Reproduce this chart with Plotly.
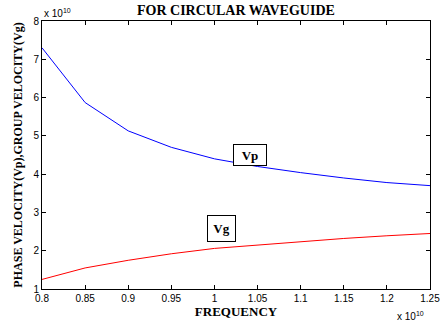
import plotly.graph_objects as go

freq = [0.8, 0.85, 0.9, 0.95, 1.0, 1.05, 1.1, 1.15, 1.2, 1.25]
vp = [7.3, 5.87, 5.13, 4.7, 4.4, 4.2, 4.04, 3.9, 3.78, 3.7]
vg = [1.25, 1.55, 1.75, 1.92, 2.06, 2.15, 2.24, 2.32, 2.39, 2.45]
xticks = [0.8, 0.85, 0.9, 0.95, 1.0, 1.05, 1.1, 1.15, 1.2, 1.25]
xticktext = ["0.8", "0.85", "0.9", "0.95", "1", "1.05", "1.1", "1.15", "1.2", "1.25"]
yticks = [1, 2, 3, 4, 5, 6, 7, 8]

serif = "Liberation Serif, Times New Roman, serif"
sans = "Liberation Sans, Arial, sans-serif"

fig = go.Figure()
fig.add_trace(go.Scatter(x=freq, y=vp, mode="lines", line=dict(color="#0000ff", width=1), showlegend=False))
fig.add_trace(go.Scatter(x=freq, y=vg, mode="lines", line=dict(color="#ff0000", width=1), showlegend=False))

fig.add_annotation(x=1.041, y=4.5, text="<b>Vp</b>", showarrow=False,
                   font=dict(family=serif, size=13, color="black"),
                   width=32, height=20,
                   bordercolor="black", borderwidth=1, borderpad=0, bgcolor="white")
fig.add_annotation(x=1.008, y=2.58, text="<b>Vg</b>", showarrow=False,
                   font=dict(family=serif, size=13, color="black"),
                   width=27, height=25,
                   bordercolor="black", borderwidth=1, borderpad=0, bgcolor="white")

fig.add_annotation(xref="paper", yref="paper", x=0, y=1, xanchor="left", yanchor="bottom",
                   text="x 10<sup>10</sup>", showarrow=False, yshift=0,
                   font=dict(family=sans, size=10, color="black"))
fig.add_annotation(xref="paper", yref="paper", x=1, y=0, xanchor="right", yanchor="middle",
                   text="x 10<sup>10</sup>", showarrow=False, yshift=-27, xshift=-4,
                   font=dict(family=sans, size=10, color="black"))

fig.update_layout(
    width=441, height=324,
    margin=dict(l=42, r=11, t=21, b=35),
    paper_bgcolor="white", plot_bgcolor="white",
    title=dict(text="<b>FOR CIRCULAR WAVEGUIDE</b>", x=0.535, xanchor="center", y=0.985, yanchor="top",
               font=dict(family=serif, size=14, color="black")),
)
fig.update_xaxes(range=[0.8, 1.25], tickvals=xticks, ticktext=xticktext, automargin=False,
                 ticks="inside", ticklen=4, tickcolor="black", mirror="ticks",
                 showline=True, linecolor="black", linewidth=1, showgrid=False, zeroline=False,
                 tickfont=dict(family=sans, size=10, color="black"),
                 title=dict(text="<b>FREQUENCY</b>", font=dict(family=serif, size=13, color="black"), standoff=2))
fig.update_yaxes(range=[1, 8], tickvals=yticks, automargin=False,
                 ticks="inside", ticklen=4, tickcolor="black", mirror="ticks",
                 showline=True, linecolor="black", linewidth=1, showgrid=False, zeroline=False,
                 tickfont=dict(family=sans, size=10, color="black"),
                 title=dict(text="<b>PHASE VELOCITY(Vp),GROUP VELOCITY(Vg)</b>", font=dict(family=serif, size=12, color="black"), standoff=8))

fig.write_html("out.html", config={"displayModeBar": False},
               post_script="document.body.style.margin='0';document.body.style.overflow='hidden';")
